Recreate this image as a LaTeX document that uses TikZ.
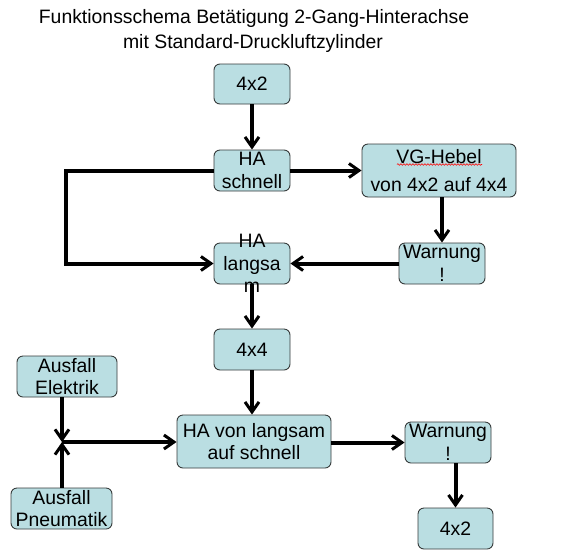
\documentclass[tikz,border=0pt]{standalone}
\usepackage{fontspec}
\setmainfont{Liberation Sans}
\usetikzlibrary{arrows.meta,decorations.pathmorphing}
\definecolor{boxfill}{RGB}{186,222,226}
\definecolor{boxline}{RGB}{55,60,60}
\begin{document}
\begin{tikzpicture}[x=1pt,y=-1pt,
  box/.style={draw=boxline,fill=boxfill,line width=0.9pt,rounded corners=6pt,
    inner sep=0pt,align=center,font=\fontsize{19.4}{22.7}\selectfont},
  conn/.style={line width=4pt,-{Straight Barb[length=10pt,width=14pt,line width=3pt]}},
  titlefont/.style={font=\fontsize{19.4}{23}\selectfont,inner sep=0pt,anchor=base}]
\useasboundingbox (0,0) rectangle (562,558);
\fill[white] (0,0) rectangle (562,558);

\node[titlefont] (title1) at (254,23) {Funktionsschema Betätigung 2-Gang-Hinterachse};
\node[titlefont] (title2) at (253,48) {mit Standard-Druckluftzylinder};

\node[box,minimum width=76pt,minimum height=40pt] (top42) at (252,84) {4x2};
\node[box,minimum width=76pt,minimum height=41pt] (schnell) at (252,170.5) {HA\\schnell};
\node[box,minimum width=154pt,minimum height=53pt] (vg) at (439,170.5) {VG-Hebel\\[5pt]von 4x2 auf 4x4};
\node[box,minimum width=86pt,minimum height=41pt] (warn1) at (442,263.5) {Warnung\\!};
\node[box,minimum width=76pt,minimum height=41pt] (langsam) at (252,263.5) {};
\node[align=center,inner sep=0pt,font=\fontsize{19.4}{22.7}\selectfont] (langsamtext) at (langsam.center) {HA\\langsa\\m};
\node[box,minimum width=76pt,minimum height=41pt] (t44) at (252,349.5) {4x4};
\node[box,minimum width=100pt,minimum height=41pt] (elektrik) at (67,376.5) {Ausfall\\Elektrik};
\node[box,minimum width=154pt,minimum height=53pt] (havon) at (254,441.5) {HA von langsam\\auf schnell};
\node[box,minimum width=86pt,minimum height=41pt] (warn2) at (448,442.5) {Warnung\\!};
\node[box,minimum width=101pt,minimum height=41pt] (pneu) at (61.5,508.5) {Ausfall\\Pneumatik};
\node[box,minimum width=75pt,minimum height=41pt] (bot42) at (455.5,528.5) {4x2};

% spell-check underline
\draw[red,line width=0.6pt,decorate,decoration={snake,amplitude=0.8pt,segment length=3pt}]
  ([xshift=-42pt,yshift=6pt]vg.center) -- ([xshift=43pt,yshift=6pt]vg.center);

\coordinate (loopA) at (66,170.5);
\coordinate (loopB) at (66,263.5);
\coordinate (junc) at (62,442);

\draw[conn] (top42.south) -- (schnell.north);
\draw[conn] (schnell.east) -- (vg.west |- schnell.east);
\draw[conn] (vg.south -| warn1.north) -- (warn1.north);
\draw[conn] (warn1.west) -- (langsam.east);
\draw[conn] (schnell.west) -- (loopA) -- (loopB) -- (langsam.west);
\draw[conn] (langsam.south) -- (t44.north);
\draw[conn] (t44.south) -- (t44.south |- havon.north);
\draw[conn] (elektrik.south -| junc) -- (junc);
\draw[conn] (pneu.north -| junc) -- (junc);
\draw[conn] (junc) -- (havon.west |- junc);
\draw[conn] (havon.east |- warn2.west) -- (warn2.west);
\draw[conn] (warn2.south -| bot42.north) -- (bot42.north);
\end{tikzpicture}
\end{document}
